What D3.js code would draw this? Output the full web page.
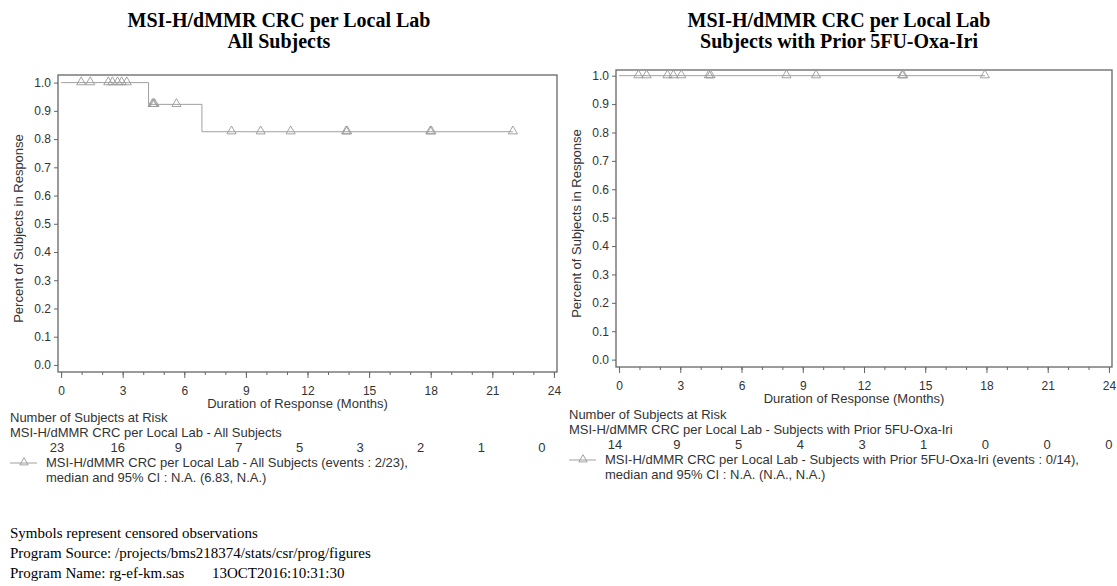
<!DOCTYPE html>
<html>
<head>
<meta charset="utf-8">
<script src="https://cdn.jsdelivr.net/npm/d3@7"></script>
<style>
  body { margin: 0; background: #fff; }
  svg { display: block; }
  .tick text { font-family: "Liberation Sans", Arial, sans-serif; fill: #333; }
</style>
</head>
<body>
<svg id="chart" width="1117" height="586"></svg>
<script>
// ---- data ----
var timeTicks = [0, 3, 6, 9, 12, 15, 18, 21, 24];
var minorTicks = d3.range(0, 25);
var yTicks = [0, 0.1, 0.2, 0.3, 0.4, 0.5, 0.6, 0.7, 0.8, 0.9, 1.0];

// All subjects
var allStepTimes = [0, 4.26, 6.86, 22.0];
var allStepSurv = [1.0, 0.923, 0.826, 0.826];
var allCensorTimes = [0.98, 1.42, 2.3, 2.5, 2.75, 2.95, 3.2, 4.45, 4.5, 4.55, 5.62, 8.3, 9.72, 11.18, 13.88, 13.93, 17.98, 18.03, 22.0];
var allAtRisk = [23, 16, 9, 7, 5, 3, 2, 1, 0];

// Subjects with prior 5FU-Oxa-Iri
var priorStepTimes = [0, 17.92];
var priorStepSurv = [1.0, 1.0];
var priorCensorTimes = [0.95, 1.35, 2.37, 2.66, 3.05, 4.4, 4.48, 8.2, 9.65, 13.87, 13.92, 17.92];
var priorAtRisk = [14, 9, 5, 4, 3, 1, 0, 0, 0];

var panels = [
  {
    title: ["MSI-H/dMMR CRC per Local Lab", "All Subjects"],
    stepTimes: allStepTimes, stepSurv: allStepSurv, censor: allCensorTimes, atRisk: allAtRisk,
    group: "MSI-H/dMMR CRC per Local Lab - All Subjects",
    legend: ["MSI-H/dMMR CRC per Local Lab - All Subjects (events : 2/23),",
             "median and 95% CI : N.A. (6.83, N.A.)"],
    left: 58, top: 75, width: 499, height: 297, yDomain: [-0.025, 1.027],
    titleX: 279, textLeft: 10, textTop: 418, riskShift: [-4, -12]
  },
  {
    title: ["MSI-H/dMMR CRC per Local Lab", "Subjects with Prior 5FU-Oxa-Iri"],
    stepTimes: priorStepTimes, stepSurv: priorStepSurv, censor: priorCensorTimes, atRisk: priorAtRisk,
    group: "MSI-H/dMMR CRC per Local Lab - Subjects with Prior 5FU-Oxa-Iri",
    legend: ["MSI-H/dMMR CRC per Local Lab - Subjects with Prior 5FU-Oxa-Iri (events : 0/14),",
             "median and 95% CI : N.A. (N.A., N.A.)"],
    left: 616, top: 70, width: 496, height: 297, yDomain: [-0.026, 1.02],
    titleX: 839, textLeft: 569, textTop: 415, riskShift: [-4, 0]
  }
];

var svg = d3.select("#chart");
var sans = "'Liberation Sans', Arial, sans-serif";
var serif = "'Liberation Serif', 'Times New Roman', serif";
var fs = "13px";

function drawPanel(p){
  var g = svg.append("g");

  //Title
  g.selectAll(".title").data(p.title).enter().append("text")
    .attr("x", p.titleX)
    .attr("y", function(d, i){ return 27 + i * 21; })
    .attr("text-anchor", "middle")
    .style("font-family", serif).style("font-weight", "bold").style("font-size", "20px")
    .text(function(d){ return d; });

  var x = d3.scaleLinear().domain([-0.15, 24.15]).range([p.left, p.left + p.width]);
  var y = d3.scaleLinear().domain(p.yDomain).range([p.top + p.height, p.top]);

  //Frame
  g.append("rect")
    .attr("x", p.left).attr("y", p.top)
    .attr("width", p.width).attr("height", p.height)
    .attr("fill", "none").attr("stroke", "#666").attr("stroke-width", 1.3);

  //Y axis
  var ya = g.append("g").attr("transform", "translate(" + p.left + ",0)")
    .call(d3.axisLeft(y).tickValues(yTicks).tickSize(4).tickPadding(3).tickFormat(d3.format(".1f")));
  ya.select(".domain").remove();
  ya.selectAll("line").attr("stroke", "#666");
  ya.selectAll("text").style("font-size", "12px");

  //X axis, minor then major
  var base = p.top + p.height;
  var xm = g.append("g").attr("transform", "translate(0," + base + ")")
    .call(d3.axisBottom(x).tickValues(minorTicks).tickSize(3).tickFormat(""));
  xm.select(".domain").remove();
  xm.selectAll("line").attr("stroke", "#666");
  var xa = g.append("g").attr("transform", "translate(0," + base + ")")
    .call(d3.axisBottom(x).tickValues(timeTicks).tickSize(6).tickPadding(8));
  xa.select(".domain").remove();
  xa.selectAll("line").attr("stroke", "#666");
  xa.selectAll("text").style("font-size", "12px");

  //Axis titles
  g.append("text")
    .attr("transform", "translate(" + (p.left - 35) + "," + (p.top + p.height / 2 + 5) + ") rotate(-90)")
    .attr("text-anchor", "middle")
    .style("font-family", sans).style("font-size", fs).style("fill", "#333")
    .text("Percent of Subjects in Response");
  g.append("text")
    .attr("x", x(12) - 10).attr("y", base + 36)
    .attr("text-anchor", "middle")
    .style("font-family", sans).style("font-size", fs).style("fill", "#333")
    .text("Duration of Response (Months)");

  //KM curve
  var pts = p.stepTimes.map(function(t, i){ return [t, p.stepSurv[i]]; });
  g.append("path")
    .datum(pts)
    .attr("d", d3.line().curve(d3.curveStepAfter)
      .x(function(d){ return x(d[0]); })
      .y(function(d){ return y(d[1]); }))
    .attr("fill", "none").attr("stroke", "#a0a0a0").attr("stroke-width", 1);

  //Censored observations
  var survAt = function(t){
    var i = d3.bisectRight(p.stepTimes, t) - 1;
    return p.stepSurv[Math.max(0, i)];
  };
  g.selectAll(".censor").data(p.censor).enter().append("path")
    .attr("transform", function(d){ return "translate(" + x(d) + "," + (y(survAt(d)) - 0.5) + ")"; })
    .attr("d", d3.symbol().type(d3.symbolTriangle).size(36))
    .attr("fill", "none").attr("stroke", "#999").attr("stroke-width", 0.9);

  //At risk table
  var ty = p.textTop + 4;
  g.append("text").attr("x", p.textLeft).attr("y", ty)
    .style("font-family", sans).style("font-size", fs).style("fill", "#333")
    .text("Number of Subjects at Risk");
  g.append("text").attr("x", p.textLeft).attr("y", ty + 15)
    .style("font-family", sans).style("font-size", fs).style("fill", "#333")
    .text(p.group);
  var rx = d3.scaleLinear().domain([0, 24])
    .range([x(0) + p.riskShift[0], x(24) + p.riskShift[1]]);
  g.selectAll(".risk").data(p.atRisk).enter().append("text")
    .attr("x", function(d, i){ return rx(timeTicks[i]); })
    .attr("y", ty + 30)
    .attr("text-anchor", "middle")
    .style("font-family", sans).style("font-size", fs).style("fill", "#333")
    .text(function(d){ return d; });

  //Legend
  var ly = ty + 41;
  g.append("line")
    .attr("x1", p.textLeft).attr("x2", p.textLeft + 27)
    .attr("y1", ly).attr("y2", ly)
    .attr("stroke", "#a0a0a0");
  g.append("path")
    .attr("transform", "translate(" + (p.textLeft + 14) + "," + (ly - 0.5) + ")")
    .attr("d", d3.symbol().type(d3.symbolTriangle).size(30))
    .attr("fill", "none").attr("stroke", "#999").attr("stroke-width", 0.9);
  g.selectAll(".legend").data(p.legend).enter().append("text")
    .attr("x", p.textLeft + 36)
    .attr("y", function(d, i){ return ly + 4 + i * 15; })
    .style("font-family", sans).style("font-size", fs).style("fill", "#333")
    .text(function(d){ return d; });
}

panels.forEach(drawPanel);

//Footnotes
var foot = [
  "Symbols represent censored observations",
  "Program Source: /projects/bms218374/stats/csr/prog/figures"
];
svg.selectAll(".foot").data(foot).enter().append("text")
  .attr("x", 10)
  .attr("y", function(d, i){ return 538 + i * 20; })
  .style("font-family", serif).style("font-size", "15px")
  .text(function(d){ return d; });
svg.append("text").attr("x", 10).attr("y", 578)
  .style("font-family", serif).style("font-size", "15px")
  .text("Program Name: rg-ef-km.sas");
svg.append("text").attr("x", 212).attr("y", 578)
  .style("font-family", serif).style("font-size", "15px")
  .text("13OCT2016:10:31:30");
</script>
</body>
</html>
